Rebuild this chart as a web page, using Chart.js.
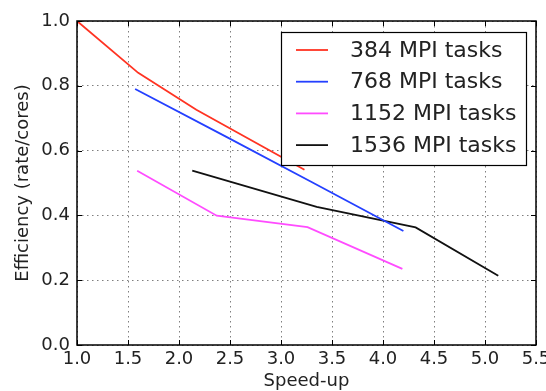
<!DOCTYPE html>
<html>
<head>
<meta charset="utf-8">
<script src="https://cdn.jsdelivr.net/npm/chart.js@4/dist/chart.umd.min.js"></script>
<style>
  html, body { margin: 0; padding: 0; background: #ffffff; }
  #wrap { width: 546px; height: 391px; position: relative; }
</style>
</head>
<body>
<div id="wrap"><canvas id="chart" width="546" height="391"></canvas></div>
<script>
// Series: efficiency against speed-up for each MPI task count
const seriesLabels = ['384 MPI tasks', '768 MPI tasks', '1152 MPI tasks', '1536 MPI tasks'];
const seriesColors = ['#ff3322', '#2440ff', '#ff4cff', '#111111'];

const speedup384  = [1.0, 1.6, 2.17, 3.23];
const eff384      = [1.0, 0.84, 0.726, 0.541];

const speedup768  = [1.57, 2.46, 3.3, 4.2];
const eff768      = [0.79, 0.643, 0.503, 0.352];

const speedup1152 = [1.59, 2.37, 3.26, 4.19];
const eff1152     = [0.538, 0.399, 0.364, 0.235];

const speedup1536 = [2.13, 3.35, 4.32, 5.13];
const eff1536     = [0.538, 0.426, 0.363, 0.214];

const xTicks = [1.0, 1.5, 2.0, 2.5, 3.0, 3.5, 4.0, 4.5, 5.0, 5.5];
const yTicks = [0.0, 0.2, 0.4, 0.6, 0.8, 1.0];

const xSeries = [speedup384, speedup768, speedup1152, speedup1536];
const ySeries = [eff384, eff768, eff1152, eff1536];

const datasets = seriesLabels.map((label, i) => ({
  label,
  data: xSeries[i].map((x, k) => ({ x, y: ySeries[i][k] })),
  borderColor: seriesColors[i],
  backgroundColor: seriesColors[i],
  borderWidth: 1.8,
  pointRadius: 0,
  showLine: true,
  tension: 0,
  fill: false
}));

const FONT = "'DejaVu Sans', sans-serif";

// Frame around the plot area with inward tick marks on all four sides
const framePlugin = {
  id: 'frame',
  afterDatasetsDraw(chart) {
    const { ctx, chartArea: a, scales } = chart;
    ctx.save();
    ctx.strokeStyle = '#000';
    ctx.lineWidth = 1;
    const tl = 5;
    ctx.beginPath();
    xTicks.forEach(v => {
      const px = Math.round(scales.x.getPixelForValue(v)) + 0.5;
      ctx.moveTo(px, a.bottom); ctx.lineTo(px, a.bottom - tl);
      ctx.moveTo(px, a.top); ctx.lineTo(px, a.top + tl);
    });
    yTicks.forEach(v => {
      const py = Math.round(scales.y.getPixelForValue(v)) + 0.5;
      ctx.moveTo(a.left, py); ctx.lineTo(a.left + tl, py);
      ctx.moveTo(a.right, py); ctx.lineTo(a.right - tl, py);
    });
    ctx.stroke();
    ctx.lineWidth = 1.5;
    ctx.strokeRect(a.left, a.top, a.right - a.left, a.bottom - a.top);
    ctx.restore();
  }
};

// Boxed legend in the upper right of the plot area
const legendBoxPlugin = {
  id: 'legendBox',
  afterDraw(chart) {
    const { ctx } = chart;
    const box = { x: 281.5, y: 32.5, w: 245, h: 133 };
    ctx.save();
    ctx.fillStyle = '#fff';
    ctx.fillRect(box.x, box.y, box.w, box.h);
    ctx.strokeStyle = '#000';
    ctx.lineWidth = 1.2;
    ctx.strokeRect(box.x, box.y, box.w, box.h);
    ctx.font = '22px ' + FONT;
    ctx.textBaseline = 'middle';
    ctx.textAlign = 'left';
    chart.data.datasets.forEach((ds, i) => {
      const cy = 50 + i * 31.7;
      ctx.strokeStyle = ds.borderColor;
      ctx.lineWidth = 1.8;
      ctx.beginPath();
      ctx.moveTo(296, cy);
      ctx.lineTo(328, cy);
      ctx.stroke();
      ctx.fillStyle = '#222';
      ctx.fillText(ds.label, 350, cy + 1);
    });
    ctx.restore();
  }
};

new Chart(document.getElementById('chart'), {
  type: 'scatter',
  data: { datasets },
  plugins: [framePlugin, legendBoxPlugin],
  options: {
    responsive: false,
    animation: false,
    devicePixelRatio: 1,
    layout: { padding: { top: 21, right: 10, left: 0, bottom: 0 } },
    plugins: { legend: { display: false }, tooltip: { enabled: false }, title: { display: false } },
    scales: {
      x: {
        type: 'linear',
        min: 1.0, max: 5.5,
        afterBuildTicks(scale) { scale.ticks = xTicks.map(v => ({ value: v })); },
        afterFit(scale) { scale.height = 46; scale.paddingLeft = 0; scale.paddingRight = 0; },
        ticks: {
          font: { family: FONT, size: 18 }, color: '#222', padding: 4,
          maxRotation: 0, autoSkip: false,
          callback: v => v.toFixed(1)
        },
        grid: { color: 'rgba(0,0,0,0.5)', lineWidth: 1, drawTicks: false },
        border: { display: false, dash: [1.5, 3.5] },
        title: {
          display: true, text: 'Speed-up',
          font: { family: FONT, size: 18 }, color: '#222',
          padding: { top: 0, bottom: -1 }
        }
      },
      y: {
        type: 'linear',
        min: 0.0, max: 1.0,
        afterBuildTicks(scale) { scale.ticks = yTicks.map(v => ({ value: v })); },
        afterFit(scale) { scale.width = 77; scale.paddingTop = 0; scale.paddingBottom = 0; },
        ticks: {
          font: { family: FONT, size: 18 }, color: '#222', padding: 7,
          autoSkip: false,
          callback: v => v.toFixed(1)
        },
        grid: { color: 'rgba(0,0,0,0.5)', lineWidth: 1, drawTicks: false },
        border: { display: false, dash: [1.5, 3.5] },
        title: {
          display: true, text: 'Efficiency (rate/cores)',
          font: { family: FONT, size: 18 }, color: '#222',
          padding: { top: 13, bottom: 0 }
        }
      }
    }
  }
});
</script>
</body>
</html>
